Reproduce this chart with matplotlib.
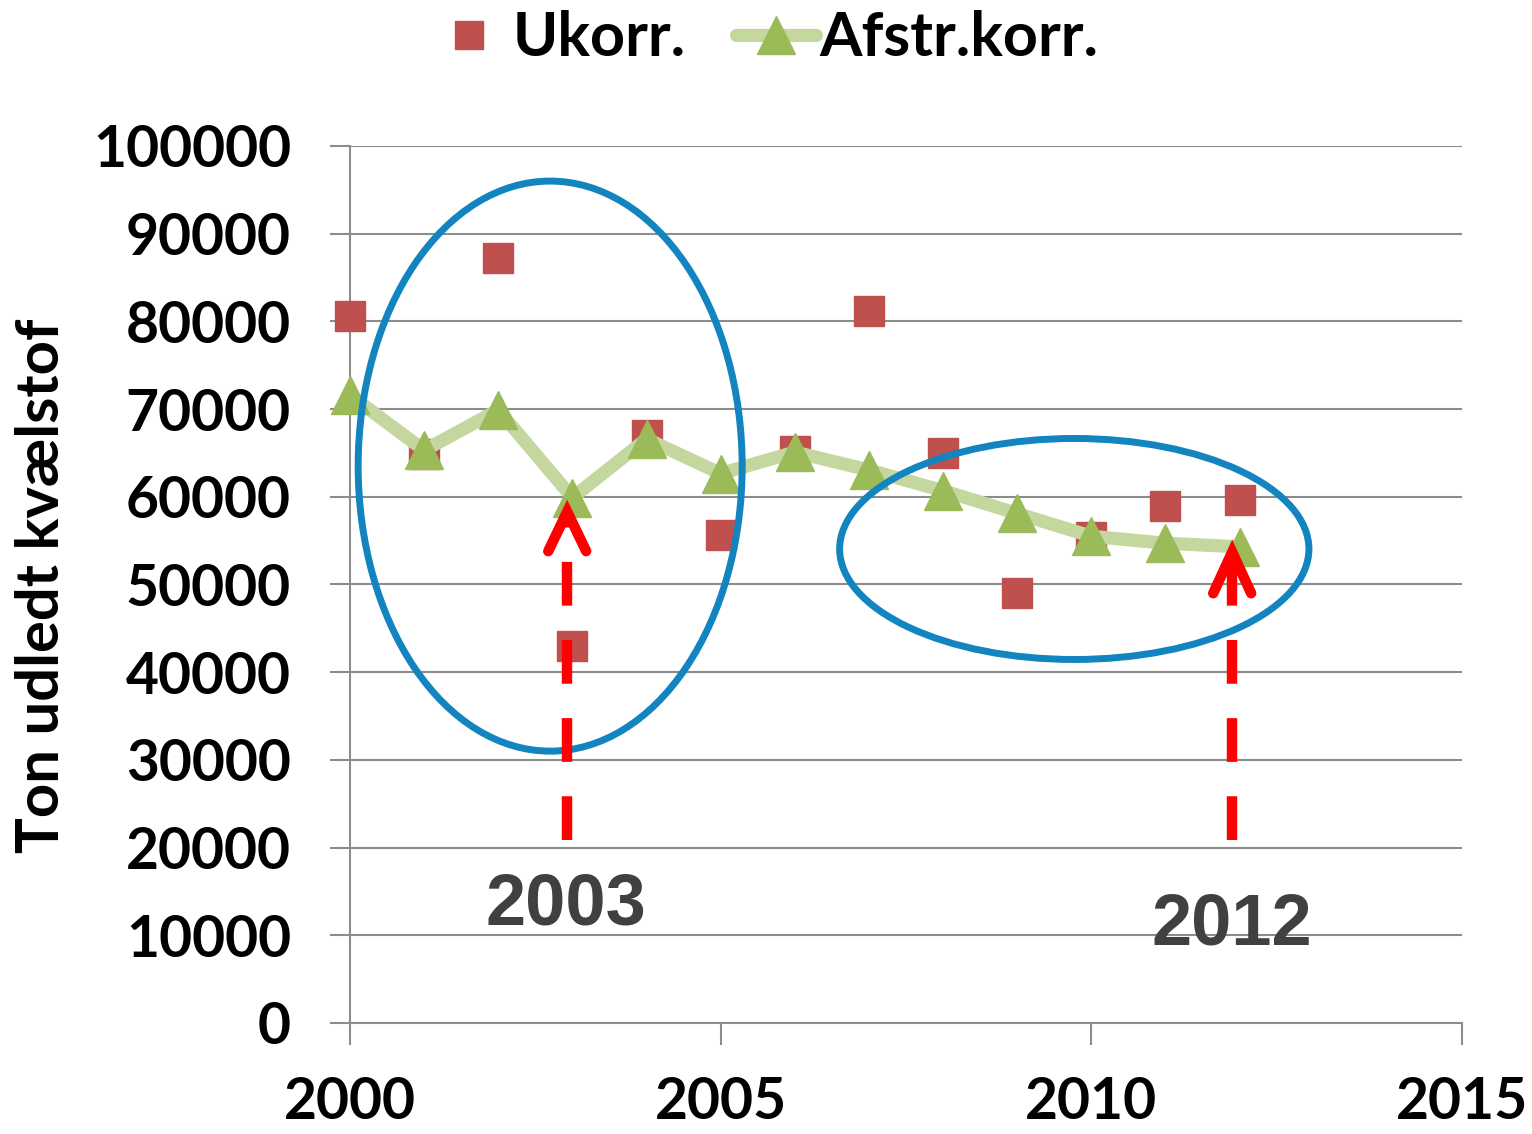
import matplotlib
matplotlib.use("Agg")
import matplotlib.pyplot as plt
from matplotlib.patches import Ellipse
from matplotlib.lines import Line2D

# ---- data ----
years = [2000, 2001, 2002, 2003, 2004, 2005, 2006, 2007, 2008, 2009, 2010, 2011, 2012]
ukorr = [80600, 64900, 87200, 43000, 67100, 55600, 65200, 81200, 65000, 49000, 55400, 59000, 59600]
afstr = [71600, 65300, 69900, 59900, 66600, 62650, 65100, 63050, 60700, 58100, 55500, 54700, 54300]
series_labels = ["Ukorr.", "Afstr.korr."]
y_ticks = [0, 10000, 20000, 30000, 40000, 50000, 60000, 70000, 80000, 90000, 100000]
x_ticks = [2000, 2005, 2010, 2015]
y_label = "Ton udledt kvælstof"
callout_years = ["2003", "2012"]

plt.rcParams["font.family"] = ["Lato", "DejaVu Sans"]
plt.rcParams["font.weight"] = "bold"

RED = "#C0504D"
GREEN = "#9BBB59"
LGREEN = "#C4D79E"
BLUE = "#1284BF"
GRID = "#8C8C8C"

fig = plt.figure(figsize=(15.32, 11.34), dpi=100)
W, H = 1532, 1134
ax = fig.add_axes([350 / W, (H - 1023) / H, (1462 - 350) / W, (1023 - 146) / H])

ax.set_xlim(2000, 2015)
ax.set_ylim(0, 100000)
ax.set_xticks(x_ticks)
ax.set_xticklabels([str(v) for v in x_ticks])
ax.set_yticks(y_ticks)
ax.set_yticklabels([str(v) for v in y_ticks])

ax.grid(axis="y", color=GRID, lw=1.5, zorder=0)
ax.set_axisbelow(True)
for s in ["top", "right"]:
    ax.spines[s].set_visible(False)
for s in ["left", "bottom"]:
    ax.spines[s].set_color(GRID)
    ax.spines[s].set_linewidth(1.5)

ax.tick_params(axis="y", length=14.5, width=1.5, color=GRID, pad=28, labelsize=41)
ax.tick_params(axis="x", length=16, width=1.5, color=GRID, pad=22, labelsize=41)
for lab in ax.get_xticklabels() + ax.get_yticklabels():
    lab.set_fontweight("bold")

# series
ax.plot(years, ukorr, ls="none", marker="s", ms=21, color=RED, mec=RED,
        zorder=3, clip_on=False)
ax.plot(years, afstr, ls="-", lw=9.5, color=LGREEN, solid_joinstyle="round",
        solid_capstyle="round", marker="^", ms=27, mfc=GREEN, mec=GREEN,
        zorder=4, clip_on=False)

# ellipses
ax.add_patch(Ellipse((2002.70, 63500), 5.18, 65000, fill=False, ec=BLUE,
                     lw=5, zorder=6, clip_on=False))
ax.add_patch(Ellipse((2009.77, 54050), 6.33, 25200, fill=False, ec=BLUE,
                     lw=5, zorder=6, clip_on=False))

# red dashed arrows
def arrow(x, bottom, shaft_top, tip, arm_y, dx):
    ax.plot([x, x], [bottom, shaft_top], color="red", lw=7.5,
            dashes=(4.2, 3.3), solid_capstyle="butt", zorder=7, clip_on=False)
    ax.plot([x - dx, x, x + dx], [arm_y, tip, arm_y], color="red", lw=7.5,
            solid_capstyle="round", solid_joinstyle="miter", zorder=7,
            clip_on=False)

arrow(2002.93, 20870, 57300, 58300, 53800, 0.256)
arrow(2011.90, 20870, 52800, 53700, 49000, 0.256)

ax.text(2002.91, 11200, callout_years[0], ha="center", va="baseline",
        fontsize=52, fontweight="bold", color="#404040",
        family=["Liberation Sans", "DejaVu Sans"], zorder=8)
ax.text(2011.90, 8900, callout_years[1], ha="center", va="baseline",
        fontsize=52, fontweight="bold", color="#404040",
        family=["Liberation Sans", "DejaVu Sans"], zorder=8)

# y label
fig.text(42 / W, 1 - 586 / H, y_label, rotation=90, ha="center", va="center",
         fontsize=43, fontweight="bold")

# legend
handles = [
    Line2D([], [], ls="none", marker="s", ms=20, color=RED),
    Line2D([], [], ls="-", lw=9.5, color=LGREEN, marker="^", ms=27,
           mfc=GREEN, mec=GREEN, solid_capstyle="round"),
]
leg = fig.legend(handles, series_labels, loc="center",
                 bbox_to_anchor=(764 / W, 1 - 38 / H), ncol=2, frameon=False,
                 fontsize=44, handlelength=1.31, handletextpad=0.06,
                 columnspacing=0.82, borderpad=0, borderaxespad=0)
for t in leg.get_texts():
    t.set_fontweight("bold")

fig.savefig("out.png", dpi=100)
